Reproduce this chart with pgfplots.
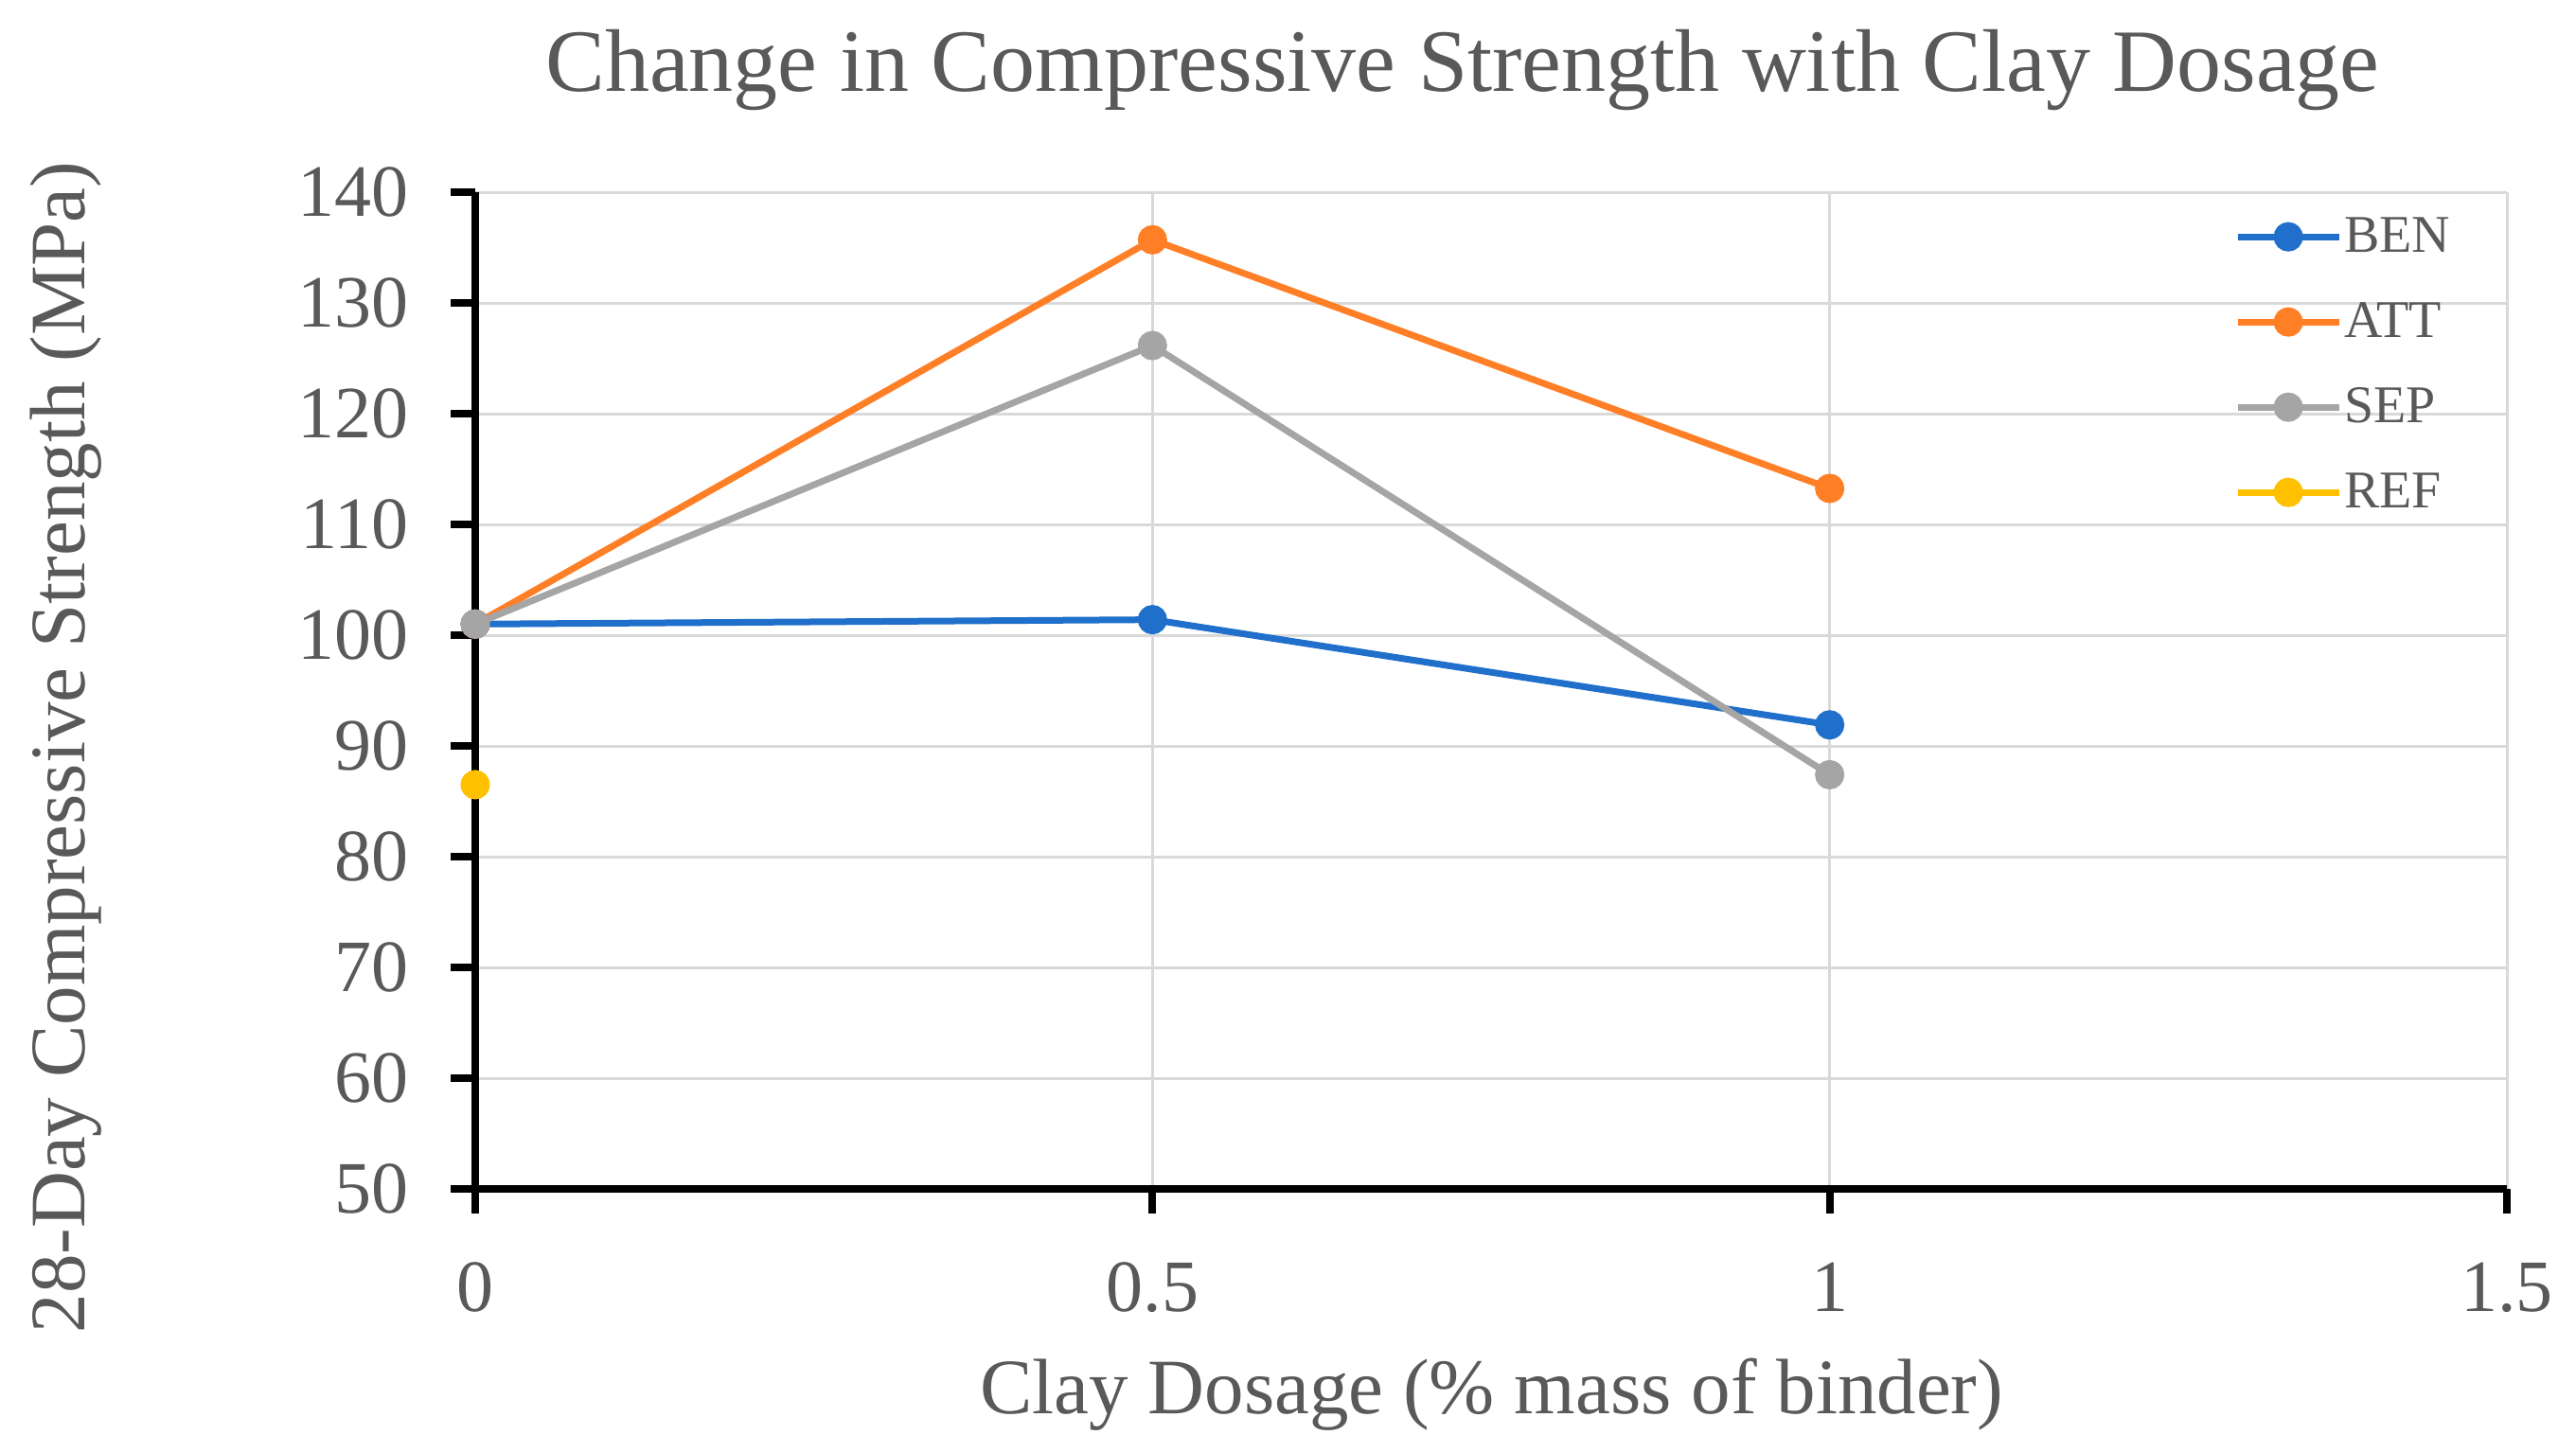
\documentclass[border=0pt]{standalone}
\usepackage{fontspec}
\setmainfont{Liberation Serif}
\usepackage{pgfplots}
\pgfplotsset{compat=1.18}
\definecolor{txtgray}{HTML}{595959}
\definecolor{gridgray}{HTML}{D9D9D9}
\definecolor{benblue}{HTML}{1F6FCB}
\definecolor{attorange}{HTML}{FF7F27}
\definecolor{sepgray}{HTML}{A5A5A5}
\definecolor{refyellow}{HTML}{FFC000}
\begin{document}
\begin{tikzpicture}
\useasboundingbox (0,0) rectangle (680.25pt,383.5pt);
\begin{axis}[
  at={(125.5pt,69.5pt)}, anchor=south west,
  scale only axis, width=536.5pt, height=263.25pt,
  xmin=0, xmax=1.5, ymin=50, ymax=140,
  xtick={0,0.5,1,1.5}, xticklabels={0,0.5,1,1.5},
  ytick={50,60,70,80,90,100,110,120,130,140},
  yticklabels={50,60,70,80,90,100,110,120,130,140},
  axis lines*=left,
  axis line style={black, line width=2.2pt},
  tick align=outside, major tick length=6.5pt,
  tick style={black, line width=2pt},
  grid=major, major grid style={gridgray, line width=0.75pt},
  clip=false,
  yticklabel style={font=\fontsize{19.5pt}{22pt}\selectfont, text=txtgray, anchor=east, inner sep=0pt, xshift=-11pt},
  xticklabel style={font=\fontsize{19.5pt}{22pt}\selectfont, text=txtgray, anchor=north, inner sep=0pt, yshift=-12.75pt},
  every axis title shift=0pt,
  title={Change in Compressive Strength with Clay Dosage},
  title style={at={(axis description cs:0.486,1.1016)}, anchor=base, inner sep=0pt, font=\fontsize{23.5pt}{26pt}\selectfont, text=txtgray},
  xlabel={Clay Dosage (\% mass of binder)},
  xlabel style={at={(axis description cs:0.5003,-0.226)}, anchor=base, inner sep=0pt, font=\fontsize{20.75pt}{24pt}\selectfont, text=txtgray},
  ylabel={28-Day Compressive Strength (MPa)},
  ylabel style={at={(axis description cs:-0.192,0.443)}, anchor=base, inner sep=0pt, font=\fontsize{20.75pt}{24pt}\selectfont, text=txtgray},
  legend cell align=left,
  legend image code/.code={\draw[mark repeat=2,mark phase=2,#1] plot coordinates {(0pt,0pt) (13.4pt,0pt) (26.75pt,0pt)};},
  legend style={at={(axis description cs:0.8658,0.978)}, anchor=north west, draw=none, fill=none, inner sep=0pt, outer sep=0pt,
    font=\fontsize{14pt}{16pt}\selectfont, text=txtgray,
    nodes={inner sep=0pt, text height=10pt, text depth=2pt},
    row sep=10.5pt, column sep=0.5pt},
  every axis plot/.append style={line width=1.75pt, mark=*, mark size=3pt},
]
\addplot[color=benblue, mark options={fill=benblue, draw=benblue}] coordinates {(0,101.0) (0.5,101.4) (1,91.9)};
\addlegendentry{BEN}
\addplot[color=attorange, mark options={fill=attorange, draw=attorange}] coordinates {(0,101.0) (0.5,135.7) (1,113.25)};
\addlegendentry{ATT}
\addplot[color=sepgray, mark options={fill=sepgray, draw=sepgray}] coordinates {(0,101.0) (0.5,126.15) (1,87.4)};
\addlegendentry{SEP}
\addplot[color=refyellow, mark options={fill=refyellow, draw=refyellow}] coordinates {(0,86.5)};
\addlegendentry{REF}
\end{axis}
\end{tikzpicture}
\end{document}
